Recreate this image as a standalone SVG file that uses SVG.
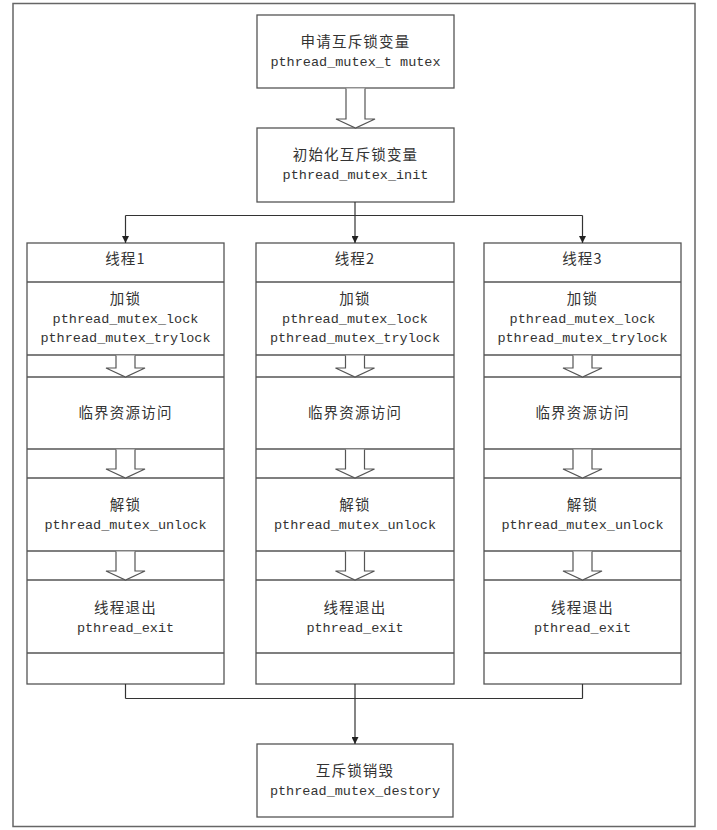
<svg xmlns="http://www.w3.org/2000/svg" width="717" height="830" viewBox="0 0 717 830">
<defs>
<style>
.frame{fill:none;stroke:#666;stroke-width:1.5}
.box{fill:#fff;stroke:#555;stroke-width:1.3}
.sep{stroke:#555;stroke-width:1.3}
.blk{fill:#fff;stroke:#555;stroke-width:1.2;stroke-linejoin:miter}
.ln{fill:none;stroke:#333;stroke-width:1.2}
.cn{font-family:"Noto Sans CJK SC","Noto Sans",sans-serif;font-size:14.5px;letter-spacing:1.2px;fill:#333;text-anchor:middle}
.mo{font-family:"Liberation Mono","DejaVu Sans Mono",monospace;font-size:13.5px;fill:#333;text-anchor:middle}
</style>
<marker id="ah" viewBox="0 0 10 10" refX="10" refY="5" markerWidth="7" markerHeight="7" markerUnits="userSpaceOnUse" orient="auto">
<path d="M0,0 L10,5 L0,10 z" fill="#222"/>
</marker>
</defs>
<rect width="717" height="830" fill="#fff"/>
<rect class="frame" x="13" y="3.5" width="682" height="823"/>

<g id="declare">
<rect class="box" x="257" y="15" width="197" height="73"/>
<text class="cn" x="355.5" y="47">申请互斥锁变量</text>
<text class="mo" x="355.5" y="66">pthread_mutex_t mutex</text>
</g>
<g id="init">
<rect class="box" x="257" y="128" width="197" height="74"/>
<text class="cn" x="355.5" y="160">初始化互斥锁变量</text>
<text class="mo" x="355.5" y="179">pthread_mutex_init</text>
</g>

<g id="thread1">
<rect class="box" x="27" y="243" width="197" height="441"/>
<line class="sep" x1="27" y1="282" x2="224" y2="282"/>
<line class="sep" x1="27" y1="355" x2="224" y2="355"/>
<line class="sep" x1="27" y1="377" x2="224" y2="377"/>
<line class="sep" x1="27" y1="449" x2="224" y2="449"/>
<line class="sep" x1="27" y1="478" x2="224" y2="478"/>
<line class="sep" x1="27" y1="551" x2="224" y2="551"/>
<line class="sep" x1="27" y1="580" x2="224" y2="580"/>
<line class="sep" x1="27" y1="653" x2="224" y2="653"/>
<text class="cn" x="125.5" y="264">线程1</text>
<text class="cn" x="125.5" y="304">加锁</text>
<text class="mo" x="125.5" y="323">pthread_mutex_lock</text>
<text class="mo" x="125.5" y="342">pthread_mutex_trylock</text>
<text class="cn" x="125.5" y="418">临界资源访问</text>
<text class="cn" x="125.5" y="510">解锁</text>
<text class="mo" x="125.5" y="529">pthread_mutex_unlock</text>
<text class="cn" x="125.5" y="613">线程退出</text>
<text class="mo" x="125.5" y="632">pthread_exit</text>
<path class="blk" d="M116,355.6 V368 H106 L125.5,377 L145,368 H135 V355.6"/>
<path class="blk" d="M116,449.6 V469 H106 L125.5,478 L145,469 H135 V449.6"/>
<path class="blk" d="M116,551.6 V571 H106 L125.5,580 L145,571 H135 V551.6"/>
</g>

<g id="thread2">
<rect class="box" x="256" y="243" width="198" height="441"/>
<line class="sep" x1="256" y1="282" x2="454" y2="282"/>
<line class="sep" x1="256" y1="355" x2="454" y2="355"/>
<line class="sep" x1="256" y1="377" x2="454" y2="377"/>
<line class="sep" x1="256" y1="449" x2="454" y2="449"/>
<line class="sep" x1="256" y1="478" x2="454" y2="478"/>
<line class="sep" x1="256" y1="551" x2="454" y2="551"/>
<line class="sep" x1="256" y1="580" x2="454" y2="580"/>
<line class="sep" x1="256" y1="653" x2="454" y2="653"/>
<text class="cn" x="355" y="264">线程2</text>
<text class="cn" x="355" y="304">加锁</text>
<text class="mo" x="355" y="323">pthread_mutex_lock</text>
<text class="mo" x="355" y="342">pthread_mutex_trylock</text>
<text class="cn" x="355" y="418">临界资源访问</text>
<text class="cn" x="355" y="510">解锁</text>
<text class="mo" x="355" y="529">pthread_mutex_unlock</text>
<text class="cn" x="355" y="613">线程退出</text>
<text class="mo" x="355" y="632">pthread_exit</text>
<path class="blk" d="M345.5,355.6 V368 H335.5 L355,377 L374.5,368 H364.5 V355.6"/>
<path class="blk" d="M345.5,449.6 V469 H335.5 L355,478 L374.5,469 H364.5 V449.6"/>
<path class="blk" d="M345.5,551.6 V571 H335.5 L355,580 L374.5,571 H364.5 V551.6"/>
</g>

<g id="thread3">
<rect class="box" x="484" y="243" width="197" height="441"/>
<line class="sep" x1="484" y1="282" x2="681" y2="282"/>
<line class="sep" x1="484" y1="355" x2="681" y2="355"/>
<line class="sep" x1="484" y1="377" x2="681" y2="377"/>
<line class="sep" x1="484" y1="449" x2="681" y2="449"/>
<line class="sep" x1="484" y1="478" x2="681" y2="478"/>
<line class="sep" x1="484" y1="551" x2="681" y2="551"/>
<line class="sep" x1="484" y1="580" x2="681" y2="580"/>
<line class="sep" x1="484" y1="653" x2="681" y2="653"/>
<text class="cn" x="582.5" y="264">线程3</text>
<text class="cn" x="582.5" y="304">加锁</text>
<text class="mo" x="582.5" y="323">pthread_mutex_lock</text>
<text class="mo" x="582.5" y="342">pthread_mutex_trylock</text>
<text class="cn" x="582.5" y="418">临界资源访问</text>
<text class="cn" x="582.5" y="510">解锁</text>
<text class="mo" x="582.5" y="529">pthread_mutex_unlock</text>
<text class="cn" x="582.5" y="613">线程退出</text>
<text class="mo" x="582.5" y="632">pthread_exit</text>
<path class="blk" d="M573,355.6 V368 H563 L582.5,377 L602,368 H592 V355.6"/>
<path class="blk" d="M573,449.6 V469 H563 L582.5,478 L602,469 H592 V449.6"/>
<path class="blk" d="M573,551.6 V571 H563 L582.5,580 L602,571 H592 V551.6"/>
</g>

<g id="destroy">
<rect class="box" x="257" y="744" width="196" height="73"/>
<text class="cn" x="355" y="776">互斥锁销毁</text>
<text class="mo" x="355" y="795">pthread_mutex_destory</text>
</g>

<g id="connectors">
<path class="blk" d="M346,88.6 V119 H336 L355.5,128 L375,119 H365 V88.6"/>
<line class="ln" x1="355" y1="202" x2="355" y2="215.5"/>
<line class="ln" x1="125.5" y1="215.5" x2="582.5" y2="215.5"/>
<line class="ln" x1="125.5" y1="215.5" x2="125.5" y2="243" marker-end="url(#ah)"/>
<line class="ln" x1="355" y1="215.5" x2="355" y2="243" marker-end="url(#ah)"/>
<line class="ln" x1="582.5" y1="215.5" x2="582.5" y2="243" marker-end="url(#ah)"/>
<line class="ln" x1="125.5" y1="684" x2="125.5" y2="698.5"/>
<line class="ln" x1="582.5" y1="684" x2="582.5" y2="698.5"/>
<line class="ln" x1="125.5" y1="698.5" x2="582.5" y2="698.5"/>
<line class="ln" x1="355" y1="684" x2="355" y2="744" marker-end="url(#ah)"/>
</g>
</svg>
